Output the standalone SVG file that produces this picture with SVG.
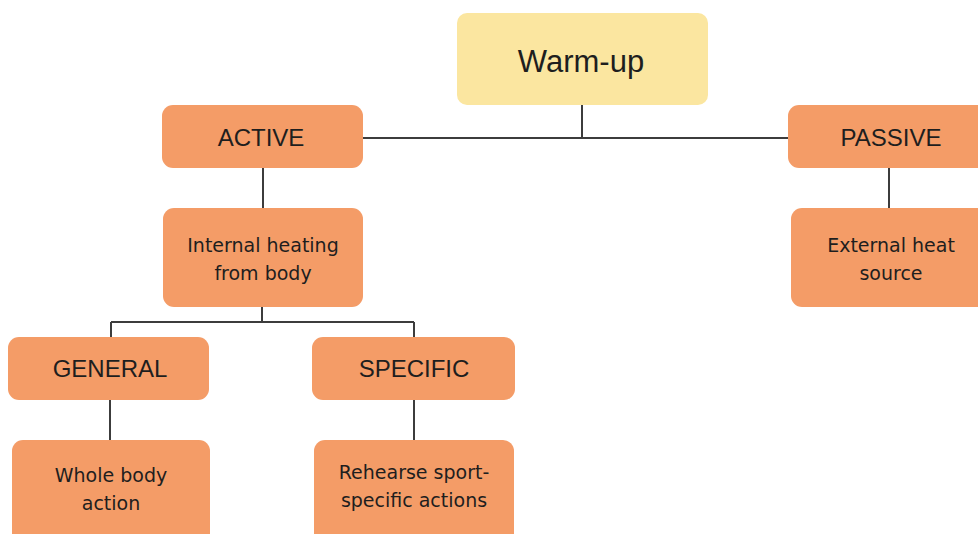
<svg xmlns="http://www.w3.org/2000/svg" width="978" height="534" viewBox="0 0 978 534">
<style>
.box{fill:#f49c67;}
.top{fill:#fbe6a0;}
.t{font-family:"Liberation Sans","DejaVu Sans",sans-serif;fill:#1e1e1e;text-anchor:middle;}
.h{font-size:24px;}
.s{font-family:"DejaVu Sans","Liberation Sans",sans-serif;font-size:19px;}
.c{stroke:#3c3c3c;stroke-width:2;fill:none;}
</style>
<rect width="978" height="534" fill="#ffffff"/>
<g id="connectors">
<path class="c" d="M582 105V138M363 138H789"/>
<path class="c" d="M263 168V208"/>
<path class="c" d="M262 307V322M111 322H414M111 322V337M414 322V337"/>
<path class="c" d="M110 400V440"/>
<path class="c" d="M414 400V440"/>
<path class="c" d="M889 168V208"/>
</g>
<g id="warmup">
<rect class="top" x="457" y="13" width="251" height="92" rx="10"/>
<text class="t" x="581" y="72" font-size="31">Warm-up</text>
</g>
<g id="active">
<rect class="box" x="162" y="105" width="201" height="63" rx="11"/>
<text class="t h" x="261" y="146">ACTIVE</text>
</g>
<g id="passive">
<rect class="box" x="788" y="105" width="200" height="63" rx="11"/>
<text class="t h" x="891" y="146">PASSIVE</text>
</g>
<g id="internal">
<rect class="box" x="163" y="208" width="200" height="99" rx="11"/>
<text class="t s" x="263" y="252">Internal heating</text>
<text class="t s" x="263" y="280">from body</text>
</g>
<g id="external">
<rect class="box" x="791" y="208" width="197" height="99" rx="11"/>
<text class="t s" x="891" y="252">External heat</text>
<text class="t s" x="891" y="280">source</text>
</g>
<g id="general">
<rect class="box" x="8" y="337" width="201" height="63" rx="11"/>
<text class="t h" x="110" y="377">GENERAL</text>
</g>
<g id="specific">
<rect class="box" x="312" y="337" width="203" height="63" rx="11"/>
<text class="t h" x="414" y="377">SPECIFIC</text>
</g>
<g id="whole">
<rect class="box" x="12" y="440" width="198" height="104" rx="11"/>
<text class="t s" x="111" y="482">Whole body</text>
<text class="t s" x="111" y="510">action</text>
</g>
<g id="rehearse">
<rect class="box" x="314" y="440" width="200" height="104" rx="11"/>
<text class="t s" x="414" y="479">Rehearse sport-</text>
<text class="t s" x="414" y="507">specific actions</text>
</g>
</svg>
